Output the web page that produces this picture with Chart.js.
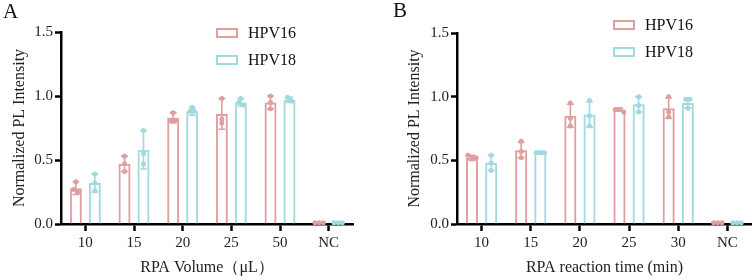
<!DOCTYPE html>
<html>
<head>
<meta charset="utf-8">
<script src="https://cdn.jsdelivr.net/npm/chart.js@4/dist/chart.umd.min.js"></script>
<style>
  body { margin: 0; background: #fff; }
  #wrap { position: relative; width: 752px; height: 280px; overflow: hidden; }
  canvas { position: absolute; top: 0; }
  .panel { position: absolute; font-family: 'Liberation Serif', serif; font-size: 21px; color: #111; }
</style>
</head>
<body>
<div id="wrap">
  <canvas id="chartA" width="376" height="280" style="left:0"></canvas>
  <canvas id="chartB" width="376" height="280" style="left:376px"></canvas>
  <div class="panel" style="left:3px;top:-1px">A</div>
  <div class="panel" style="left:393px;top:-2px">B</div>
</div>
<script>
// ---- data ----
const seriesNames = ['HPV16', 'HPV18'];
const seriesColors = ['#df9f9f', '#a0d9df'];
const yTicks = [0, 0.5, 1.0, 1.5];

// panel A: RPA volume
const volumeLabels = ['10', '15', '20', '25', '50', 'NC'];
const volHpv16Mean = [0.28, 0.47, 0.83, 0.86, 0.95, 0.01];
const volHpv16Sd = [0.05, 0.06, 0.04, 0.12, 0.05, 0];
const volHpv16Pts = [[0.33, 0.27, 0.25], [0.53, 0.47, 0.41], [0.87, 0.81, 0.81], [0.98, 0.82, 0.79], [1.00, 0.95, 0.90], [0.01, 0.01, 0.01]];
const volHpv18Mean = [0.32, 0.58, 0.88, 0.95, 0.97, 0.01];
const volHpv18Sd = [0.07, 0.15, 0.03, 0.03, 0.02, 0];
const volHpv18Pts = [[0.39, 0.32, 0.26], [0.73, 0.55, 0.47], [0.91, 0.88, 0.88], [0.98, 0.95, 0.93], [0.99, 0.98, 0.96], [0.01, 0.01, 0.01]];

// panel B: RPA reaction time
const timeLabels = ['10', '15', '20', '25', '30', 'NC'];
const timeHpv16Mean = [0.52, 0.58, 0.85, 0.90, 0.91, 0.01];
const timeHpv16Sd = [0.02, 0.06, 0.09, 0.01, 0.08, 0];
const timeHpv16Pts = [[0.54, 0.52, 0.52], [0.65, 0.57, 0.52], [0.95, 0.83, 0.77], [0.90, 0.90, 0.88], [1.00, 0.88, 0.84], [0.01, 0.01, 0.01]];
const timeHpv18Mean = [0.48, 0.56, 0.86, 0.94, 0.95, 0.01];
const timeHpv18Sd = [0.06, 0.01, 0.10, 0.06, 0.04, 0];
const timeHpv18Pts = [[0.54, 0.48, 0.42], [0.56, 0.56, 0.56], [0.97, 0.85, 0.77], [1.00, 0.93, 0.88], [0.98, 0.98, 0.91], [0.01, 0.01, 0.01]];

const FONT = 'Liberation Serif';

// error bars, replicate dots and the legend box
const extrasPlugin = {
    id: 'extras',
    afterDatasetsDraw(chart, args, opts) {
        const c = chart.ctx;
        const y = chart.scales.y;
        chart.data.datasets.forEach((ds, i) => {
            const meta = chart.getDatasetMeta(i);
            c.save();
            c.strokeStyle = ds.borderColor;
            c.fillStyle = ds.borderColor;
            c.lineWidth = 1.6;
            meta.data.forEach((bar, j) => {
                const x = bar.x;
                const sd = ds.sd[j];
                if (sd > 0) {
                    const yTop = y.getPixelForValue(ds.data[j] + sd);
                    const yBot = y.getPixelForValue(ds.data[j] - sd);
                    c.beginPath();
                    c.moveTo(x, yTop); c.lineTo(x, yBot);
                    c.moveTo(x - 3.5, yTop); c.lineTo(x + 3.5, yTop);
                    c.moveTo(x - 3.5, yBot); c.lineTo(x + 3.5, yBot);
                    c.stroke();
                }
                // spread dots sideways only when their values nearly coincide
                const vals = ds.points[j];
                vals.forEach((v, k) => {
                    const same = vals.map((w, m) => Math.abs(w - v) < 0.025 ? m : -1).filter(m => m >= 0);
                    const pos = same.indexOf(k);
                    const dx = (pos - (same.length - 1) / 2) * 4.2;
                    c.beginPath();
                    c.arc(x + dx, y.getPixelForValue(v), 2.5, 0, Math.PI * 2);
                    c.fill();
                });
            });
            c.restore();
        });
        // legend
        const a = chart.chartArea;
        c.save();
        c.font = '16px ' + FONT;
        c.textBaseline = 'middle';
        chart.data.datasets.forEach((ds, i) => {
            const bx = a.left + opts.dx;
            const by = a.top + opts.dy + i * 27;
            c.strokeStyle = ds.borderColor;
            c.lineWidth = 2;
            c.strokeRect(bx, by - 4, 20, 8);
            c.fillStyle = '#111';
            c.fillText(ds.label, bx + 31, by + 1);
        });
        c.restore();
    }
};

function makeChart(id, labels, means, sds, pts, xTitle, yWidth, yTitlePad, padRight, legendPos) {
    return new Chart(document.getElementById(id), {
        type: 'bar',
        data: {
            labels: labels,
            datasets: seriesNames.map((name, i) => ({
                label: name,
                data: means[i],
                sd: sds[i],
                points: pts[i],
                backgroundColor: 'rgba(255,255,255,0)',
                borderColor: seriesColors[i],
                borderWidth: 2,
                categoryPercentage: 0.78,
                barPercentage: 0.63
            }))
        },
        options: {
            responsive: false,
            animation: false,
            devicePixelRatio: 1,
            layout: { padding: { top: legendPos.top, right: padRight, left: 0, bottom: 0 } },
            plugins: {
                legend: { display: false },
                tooltip: { enabled: false },
                extras: { dx: legendPos.dx, dy: legendPos.dy }
            },
            scales: {
                x: {
                    grid: { display: true, drawOnChartArea: false, offset: false, tickLength: 7, tickWidth: 2.5, tickColor: '#000' },
                    border: { color: '#000', width: 2.5 },
                    ticks: { color: '#222', padding: 3, font: { family: FONT, size: 15 } },
                    title: { display: true, text: xTitle, color: '#222', padding: { top: 4, bottom: 3 }, font: { family: FONT, size: 16 } },
                    afterFit: s => { s.height = 56; }
                },
                y: {
                    min: 0,
                    max: 1.5,
                    afterBuildTicks: s => { s.ticks = yTicks.map(v => ({ value: v })); },
                    grid: { display: true, drawOnChartArea: false, tickLength: 6, tickWidth: 2.5, tickColor: '#000' },
                    border: { color: '#000', width: 2.5 },
                    ticks: { color: '#222', padding: 2, font: { family: FONT, size: 15 }, callback: v => Number(v).toFixed(1) },
                    title: { display: true, text: 'Normalized PL Intensity', color: '#222', padding: { top: yTitlePad, bottom: 0 }, font: { family: FONT, size: 16 } },
                    afterFit: s => { s.width = yWidth; }
                }
            }
        },
        plugins: [extrasPlugin]
    });
}

makeChart('chartA', volumeLabels,
    [volHpv16Mean, volHpv18Mean], [volHpv16Sd, volHpv18Sd], [volHpv16Pts, volHpv18Pts],
    'RPA Volume（μL）', 61, 10, 23, { top: 32, dx: 156, dy: 1 });

makeChart('chartB', timeLabels,
    [timeHpv16Mean, timeHpv18Mean], [timeHpv16Sd, timeHpv18Sd], [timeHpv16Pts, timeHpv18Pts],
    'RPA reaction time (min)', 81, 29, 0, { top: 33, dx: 157, dy: -8 });
</script>
</body>
</html>
